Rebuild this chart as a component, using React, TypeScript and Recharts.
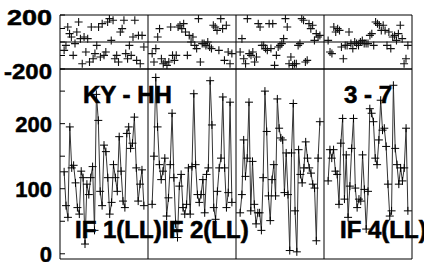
import React from 'react';
import { ComposedChart, Line, Scatter, XAxis, YAxis, ReferenceLine } from 'recharts';

const baselineLabel = 'KY - HH';
const sourceLabel = '3 - 7';
const panelLabels = ['IF 1(LL)', 'IF 2(LL)', '', 'IF 4(LL)'];

const amp1 = [126, 74, 56, 195, 132, 136, 109, 71, 61, 127, 117, 15, 107, 91, 117, 134, 36, 245, 205, 96, 74, 167, 157, 117, 61, 79, 137, 117, 96, 180, 127, 81, 71, 185, 195, 162, 170, 210, 132, 81, 107, 129, 74];
const amp2 = [76, 150, 271, 195, 137, 114, 127, 147, 58, 86, 137, 216, 117, 46, 25, 104, 122, 71, 61, 76, 132, 61, 134, 246, 137, 91, 79, 91, 114, 63, 122, 132, 266, 198, 71, 53, 96, 132, 147, 241, 132, 71, 94, 233, 79];
const amp3 = [63, 91, 175, 119, 147, 233, 66, 142, 76, 46, 63, 63, 36, 117, 250, 188, 89, 51, 114, 137, 89, 238, 193, 178, 175, 94, 155, 91, 5, 155, 231, 66, 3, 160, 122, 109, 132, 172, 147, 132, 124, 107, 101, 20, 147, 203];
const amp4 = [112, 160, 147, 160, 127, 122, 76, 170, 208, 84, 152, 56, 104, 162, 208, 101, 71, 84, 81, 152, 99, 38, 96, 223, 216, 203, 147, 137, 175, 236, 190, 193, 165, 107, 58, 66, 259, 162, 137, 107, 132, 112, 132, 193, 66];

const phase1 = [-62, -25, 111, 62, 37, -99, -12, 74, 148, 25, -161, 37, -74, 25, -148, 111, -124, -86, -25, 111, -111, 136, -99, -74, 148, 173, 12, 161, -124, -99, -148, 74, 99, 161, -86, -124, -25, -99, 37, 161, -136, 49, -161, 49, -37];
const phase2 = [-86, -148, -49, 37, 99, -124, -161, -148, -173, -148, 111, -99, -136, -99, 111, 124, 99, 136, 74, -99, 49, 0, 37, -25, -49, 173, -148, -12, -12, -25, 0, -37, -49, 124, 111, 86, -62, 173, 99, -136, 124, -74, -161, -86];
const phase3 = [-74, 25, -124, -161, 173, -86, -99, -74, -148, -111, 136, 111, -25, -25, -49, -62, 136, -49, 136, -173, -99, -37, -25, -12, 25, 173, 111, -161, -111, -173, -161, -161, -25, -12, 173, 161, -148, -136, 136, 99, 124, 12, 62, 37, 49];
const phase4 = [12, -74, -86, 111, 74, 99, 86, -37, -124, -25, -25, 74, -12, -49, 0, -12, -25, 0, 12, -12, -12, -12, 49, 62, -25, 148, 136, 124, 86, 124, 86, -25, 74, -49, 37, 49, 12, 62, 124, 25, -161, -124, -25];

const ampSeries = [amp1, amp2, amp3, amp4];
const phaseSeries = [phase1, phase2, phase3, phase4];

const timeTicks = [9.5, 19.5, 29.5, 41.5, 51.5, 61.5, 73.5, 83.5, 93.5, 105.5, 115.5, 125.5];
const panelEdges = [32, 64, 96];
const ampTicks = [0, 50, 100, 150, 200, 250];
const ampLabels = [0, 100, 200];
const phaseTicks = [-200, -100, 0, 100, 200];
const phaseLabels = [-200, 200];

const PANEL = 32;
const FONT = '"Liberation Sans", Arial, Helvetica, sans-serif';

function toPoints(values: number[], p: number) {
  const n = values.length;
  return values.map((v, i) => ({ t: p * PANEL + 1.5 + (i * (PANEL - 3)) / (n - 1), v }));
}

const ampData = ampSeries.map((s, p) => toPoints(s, p));
const phaseData = phaseSeries.map((s, p) => toPoints(s, p));

const crossPath = (cx: number, cy: number, r: number) =>
  `M${cx - r},${cy}H${cx + r}M${cx},${cy - r}V${cy + r}`;

const LineDot = (props: any) => {
  const { cx, cy, index } = props;
  if (cx == null || cy == null) return null;
  return <path key={`d${index}`} d={crossPath(cx, cy, 4)} stroke="#000" strokeWidth={1} fill="none" />;
};

const ScatterCross = (props: any) => {
  const { cx, cy } = props;
  if (cx == null || cy == null) return null;
  return <path d={crossPath(cx, cy, 4)} stroke="#111" strokeWidth={1.1} fill="none" />;
};

const AmpTick = (props: any) => {
  const { x, y, payload } = props;
  if (!ampLabels.includes(payload.value)) return null;
  return (
    <text x={x} y={y} dy={8} textAnchor="end" fontSize={22} fontWeight="bold" fontFamily={FONT} fill="#000"
      stroke="#000" strokeWidth={0.5}>
      {payload.value}
    </text>
  );
};

const PhaseTick = (props: any) => {
  const { x, y, payload } = props;
  if (!phaseLabels.includes(payload.value)) return null;
  const s = String(payload.value);
  return (
    <text x={x} y={y} dy={10} textAnchor="end" fontSize={22} fontWeight="bold" fontFamily={FONT} fill="#000"
      stroke="#000" strokeWidth={0.5} textLength={s.length === 3 ? 45 : 48} lengthAdjust="spacingAndGlyphs">
      {s}
    </text>
  );
};

const axisLine = { stroke: '#000', strokeWidth: 1 };
const tickLine = { stroke: '#000', strokeWidth: 1 };

export default function App() {
  return (
    <div style={{ position: 'absolute', left: 0, top: 0, width: 424, height: 262, background: '#fff', overflow: 'hidden' }}>
      <div style={{ position: 'absolute', left: 0, top: 0 }}>
        <ComposedChart width={424} height={90} margin={{ top: 14, right: 11, bottom: 20, left: 0 }}>
          <XAxis xAxisId="b" type="number" dataKey="t" domain={[0, 128]} allowDataOverflow ticks={timeTicks}
            orientation="bottom" height={1} tick={false} tickSize={-5} axisLine={axisLine} tickLine={tickLine} />
          <XAxis xAxisId="tp" type="number" dataKey="t" domain={[0, 128]} allowDataOverflow ticks={timeTicks}
            orientation="top" height={1} tick={false} tickSize={-5} axisLine={axisLine} tickLine={tickLine} />
          <YAxis yAxisId="l" type="number" domain={[-200, 200]} allowDataOverflow ticks={phaseTicks} width={60}
            tick={<PhaseTick />} tickSize={-5} tickMargin={13} axisLine={axisLine} tickLine={tickLine} interval={0} />
          <YAxis yAxisId="r" orientation="right" type="number" domain={[-200, 200]} allowDataOverflow ticks={phaseTicks}
            width={1} tick={false} tickSize={-5} axisLine={axisLine} tickLine={tickLine} />
          {panelEdges.map((e) => (
            <ReferenceLine key={e} xAxisId="b" yAxisId="l" x={e} stroke="#000" strokeWidth={1} />
          ))}
          <ReferenceLine xAxisId="b" yAxisId="l" y={0} stroke="#000" strokeWidth={1} />
          {phaseData.map((d, p) => (
            <Scatter key={p} xAxisId="b" yAxisId="l" data={d} dataKey="v" shape={<ScatterCross />} isAnimationActive={false} />
          ))}
        </ComposedChart>
      </div>
      <div style={{ position: 'absolute', left: 0, top: 0 }}>
        <ComposedChart width={424} height={262} margin={{ top: 68, right: 11, bottom: 2, left: 0 }}>
          <XAxis xAxisId="b" type="number" dataKey="t" domain={[0, 128]} allowDataOverflow ticks={timeTicks}
            orientation="bottom" height={1} tick={false} tickSize={-5} axisLine={axisLine} tickLine={tickLine} />
          <XAxis xAxisId="tp" type="number" dataKey="t" domain={[0, 128]} allowDataOverflow ticks={timeTicks}
            orientation="top" height={1} tick={false} tickSize={-5} axisLine={axisLine} tickLine={tickLine} />
          <YAxis yAxisId="l" type="number" domain={[-8, 284]} allowDataOverflow ticks={ampTicks} width={60}
            tick={<AmpTick />} tickSize={-5} tickMargin={13} axisLine={axisLine} tickLine={tickLine} interval={0} />
          <YAxis yAxisId="r" orientation="right" type="number" domain={[-8, 284]} allowDataOverflow ticks={ampTicks}
            width={1} tick={false} tickSize={-5} axisLine={axisLine} tickLine={tickLine} />
          {panelEdges.map((e) => (
            <ReferenceLine key={e} xAxisId="b" yAxisId="l" x={e} stroke="#000" strokeWidth={1} />
          ))}
          {ampData.map((d, p) => (
            <Line key={p} xAxisId="b" yAxisId="l" data={d} dataKey="v" type="linear" stroke="#333" strokeWidth={1}
              dot={LineDot} activeDot={false} isAnimationActive={false} />
          ))}
        </ComposedChart>
      </div>
      <svg width={424} height={262} style={{ position: 'absolute', left: 0, top: 0, pointerEvents: 'none' }}>
        <g fontFamily={FONT} fontWeight="bold" fontSize={24} fill="#000" stroke="#000" strokeWidth={0.6}>
          <text x={83} y={103}>{baselineLabel}</text>
          <text x={344} y={103}>{sourceLabel}</text>
          <text x={75} y={238}>{panelLabels[0]}</text>
          <text x={162} y={238}>{panelLabels[1]}</text>
          <text x={340} y={238}>{panelLabels[3]}</text>
        </g>
      </svg>
    </div>
  );
}
